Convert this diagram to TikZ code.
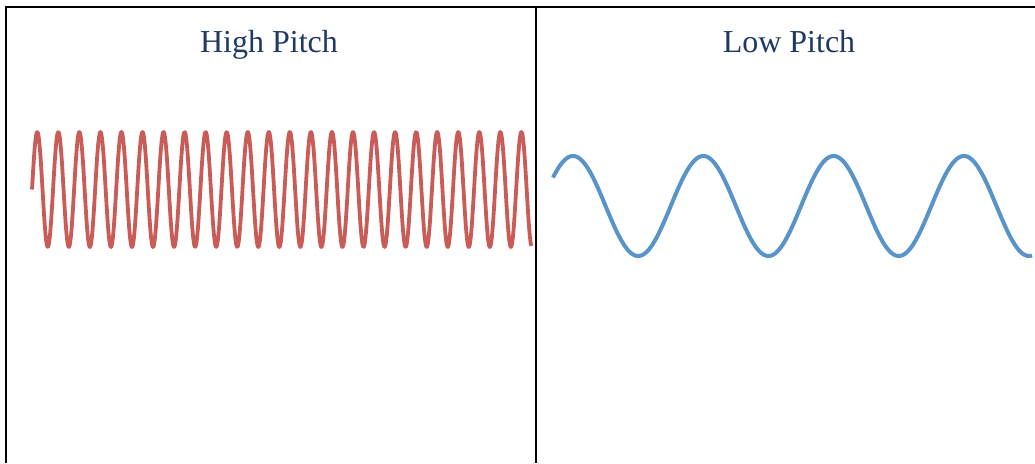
\documentclass[tikz,border=0pt]{standalone}
\usepackage{fontspec}
\setmainfont{Liberation Serif}
\definecolor{titleblue}{RGB}{31,56,100}
\definecolor{wavered}{RGB}{202,92,87}
\definecolor{waveblue}{RGB}{88,147,201}
\tikzset{
  frame/.style={line width=2.5pt, black},
  title/.style={anchor=base, text=titleblue, font=\fontsize{32}{36}\selectfont, inner sep=0pt},
  redwave/.style={wavered, line width=3.8pt, line cap=butt, line join=round},
  bluewave/.style={waveblue, line width=4pt, line cap=butt, line join=round},
}
\begin{document}
\begin{tikzpicture}[x=1pt,y=-1pt]
\useasboundingbox (0,0) rectangle (1035,463);
% table frame
\draw[frame] (6,463) -- (6,7) -- (1035,7);
\draw[frame] (536,7) -- (536,463);
% titles
\node[title] (high) at (269,52) {High Pitch};
\node[title] (low) at (789,52) {Low Pitch};
% waves
\draw[redwave] plot[domain=32:531.3, samples=1000] (\x, {189.5 - 57.5*sin(17.1021*(\x-32))});
\draw[bluewave] plot[domain=553:1032, samples=400] (\x, {206 - 50*sin(90 + 2.76285*(\x-573))});
\end{tikzpicture}
\end{document}
